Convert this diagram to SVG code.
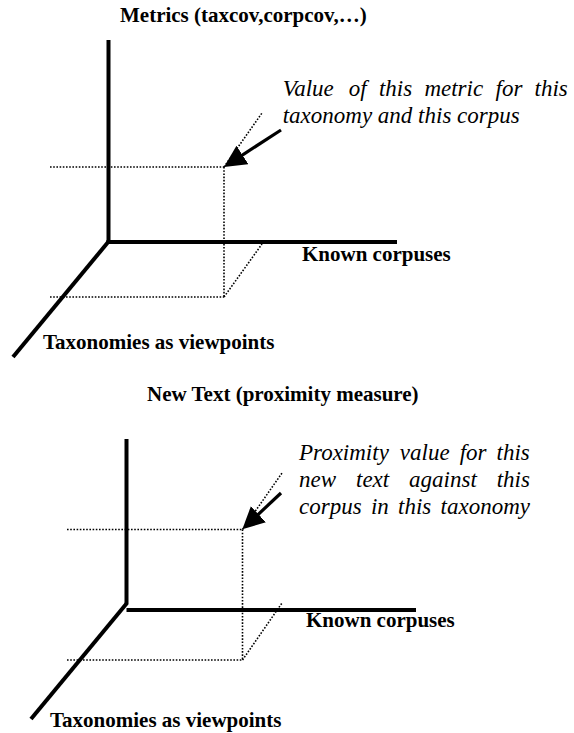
<svg xmlns="http://www.w3.org/2000/svg" width="574" height="733" viewBox="0 0 574 733">
<style>
.axis{stroke:#000;stroke-width:4;fill:none;stroke-linecap:butt}
.dot{stroke:#000;stroke-width:1.6;stroke-dasharray:1.6 1.6;fill:none}
.arr{stroke:#000;stroke-width:3.2;fill:none}
.b{font-family:"Liberation Serif","Times New Roman",serif;font-weight:bold;font-size:21px;fill:#000}
.i{font-family:"Liberation Serif","Times New Roman",serif;font-style:italic;font-size:23px;fill:#000}
</style>
<defs>
<marker id="ah" markerUnits="userSpaceOnUse" markerWidth="24" markerHeight="24" refX="7" refY="11" orient="auto">
<path d="M0,0 L22,11 L0,22 z" fill="#000"/>
</marker>
</defs>
<rect width="574" height="733" fill="#fff"/>

<g id="chart1">
<g id="axes1">
<line class="axis" x1="108.5" y1="40" x2="108.5" y2="242"/>
<line class="axis" x1="106.5" y1="242" x2="397" y2="242"/>
<line class="axis" x1="109" y1="241" x2="13" y2="357"/>
</g>
<g id="guides1">
<line class="dot" x1="50" y1="167" x2="224" y2="167"/>
<line class="dot" x1="224" y1="167" x2="224" y2="297"/>
<line class="dot" x1="50" y1="297" x2="224" y2="297"/>
<line class="dot" x1="224" y1="297" x2="262" y2="244"/>
<line class="dot" x1="224" y1="167" x2="262" y2="113"/>
</g>
<text id="title1" class="b" x="120" y="22">Metrics (taxcov,corpcov,…)</text>
<text id="xlabel1" class="b" x="302" y="261">Known corpuses</text>
<text id="zlabel1" class="b" x="43" y="349">Taxonomies as viewpoints</text>
<text id="note1" class="i"><tspan x="282.7" y="96">Value</tspan><tspan x="348.7" y="96">of</tspan><tspan x="378.9" y="96">this</tspan><tspan x="424.4" y="96">metric</tspan><tspan x="495.5" y="96">for</tspan><tspan x="534.6" y="96">this</tspan><tspan x="282.7" y="123">taxonomy and this corpus</tspan></text>
</g>

<g id="chart2">
<g id="axes2">
<line class="axis" x1="126.5" y1="439" x2="126.5" y2="604"/>
<line class="axis" x1="126.5" y1="610" x2="416" y2="610"/>
<line class="axis" x1="127" y1="603" x2="31" y2="719"/>
</g>
<g id="guides2">
<line class="dot" x1="67" y1="529.5" x2="242.5" y2="529.5"/>
<line class="dot" x1="242.5" y1="529.5" x2="242.5" y2="660"/>
<line class="dot" x1="67" y1="660" x2="242.5" y2="660"/>
<line class="dot" x1="242.5" y1="660" x2="282" y2="603"/>
<line class="dot" x1="242.5" y1="529.5" x2="282" y2="473"/>
</g>
<text id="title2" class="b" x="147" y="401">New Text (proximity measure)</text>
<text id="xlabel2" class="b" x="306" y="627">Known corpuses</text>
<text id="zlabel2" class="b" x="50" y="727">Taxonomies as viewpoints</text>
<text id="note2" class="i"><tspan x="299" y="460">Proximity</tspan><tspan x="399.8" y="460">value</tspan><tspan x="459.7" y="460">for</tspan><tspan x="496.6" y="460">this</tspan><tspan x="299" y="487">new</tspan><tspan x="356" y="487">text</tspan><tspan x="409.1" y="487">against</tspan><tspan x="496.7" y="487">this</tspan><tspan x="299" y="514">corpus</tspan><tspan x="370.9" y="514">in</tspan><tspan x="398.1" y="514">this</tspan><tspan x="440.6" y="514">taxonomy</tspan></text>
</g>

<g id="connectors">
<line class="arr" x1="281" y1="130" x2="236.6" y2="158.8" marker-end="url(#ah)"/>
<line class="arr" x1="281" y1="493" x2="253.3" y2="519" marker-end="url(#ah)"/>
</g>
</svg>
